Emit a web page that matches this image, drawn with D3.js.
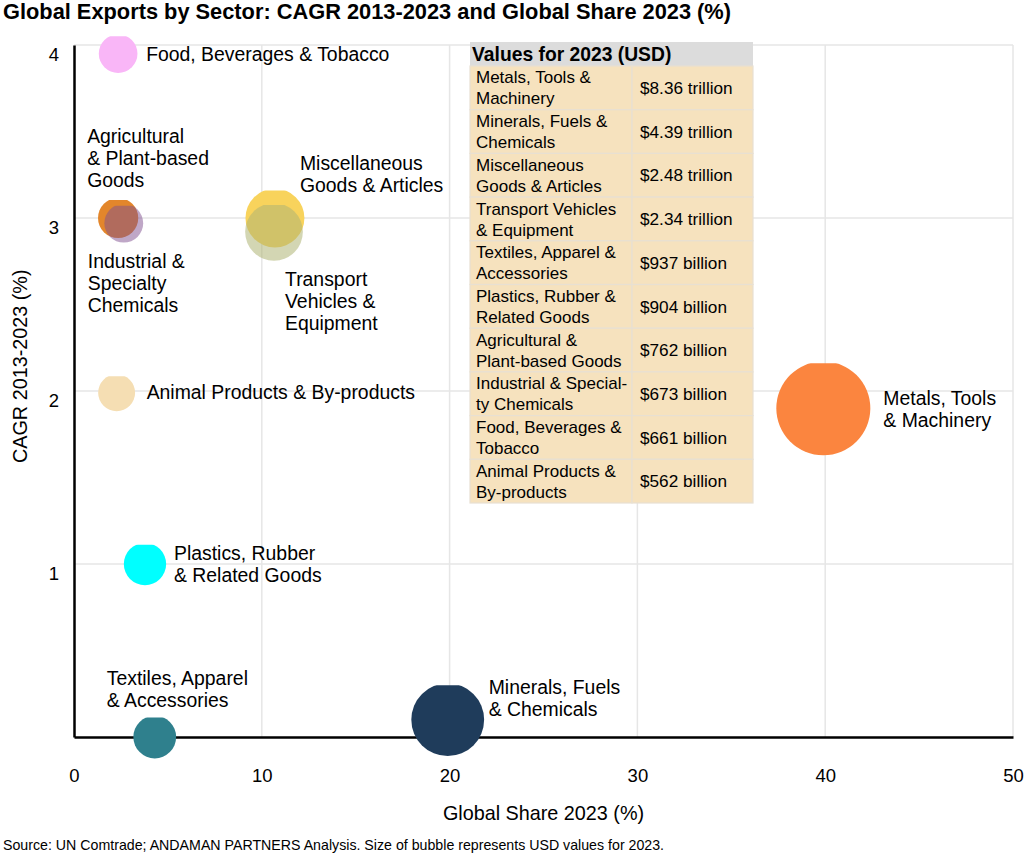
<!DOCTYPE html>
<html>
<head>
<meta charset="utf-8">
<script src="https://cdn.jsdelivr.net/npm/d3@7"></script>
<style>
  body { margin: 0; background: #fff; }
  text { font-family: "Liberation Sans", Arial, sans-serif; fill: #000; }
</style>
</head>
<body>
<div id="chart"></div>
<script>
// data
var sectors = ["Metals, Tools & Machinery", "Minerals, Fuels & Chemicals", "Miscellaneous Goods & Articles",
    "Transport Vehicles & Equipment", "Textiles, Apparel & Accessories", "Plastics, Rubber & Related Goods",
    "Agricultural & Plant-based Goods", "Industrial & Specialty Chemicals", "Food, Beverages & Tobacco",
    "Animal Products & By-products"];
var share = [39.9, 19.9, 10.7, 10.65, 4.3, 3.78, 2.35, 2.65, 2.35, 2.27];   // Global share 2023 (%)
var cagr = [1.9, 0.1, 3.0, 2.92, 0.0, 1.0, 3.0, 2.97, 3.95, 1.99];            // CAGR 2013-2023 (%)
var usdBn = [8360, 4390, 2480, 2340, 937, 904, 762, 673, 661, 562];            // USD billions 2023
var valueText = ["$8.36 trillion", "$4.39 trillion", "$2.48 trillion", "$2.34 trillion", "$937 billion",
    "$904 billion", "$762 billion", "$673 billion", "$661 billion", "$562 billion"];
var tableNames = [["Metals, Tools &", "Machinery"], ["Minerals, Fuels &", "Chemicals"], ["Miscellaneous", "Goods & Articles"],
    ["Transport Vehicles", "& Equipment"], ["Textiles, Apparel &", "Accessories"], ["Plastics, Rubber &", "Related Goods"],
    ["Agricultural &", "Plant-based Goods"], ["Industrial & Special-", "ty Chemicals"], ["Food, Beverages &", "Tobacco"],
    ["Animal Products &", "By-products"]];
var bubbleNames = [["Metals, Tools", "& Machinery"], ["Minerals, Fuels", "& Chemicals"], ["Miscellaneous", "Goods & Articles"],
    ["Transport", "Vehicles &", "Equipment"], ["Textiles, Apparel", "& Accessories"], ["Plastics, Rubber", "& Related Goods"],
    ["Agricultural", "& Plant-based", "Goods"], ["Industrial &", "Specialty", "Chemicals"], ["Food, Beverages & Tobacco"],
    ["Animal Products & By-products"]];
var xTicks = [0, 10, 20, 30, 40, 50];
var yTicks = [1, 2, 3, 4];

// styling
var colors = ["#fb853f", "#1f3c5b", "#f8d35c", "#aeb474", "#2f808d", "#00ffff", "#e3862b", "#805090", "#f9b6f7", "#f5deb3"];
var opac = [1, 1, 1, 0.55, 1, 1, 1, 0.5, 1, 1];
// label offset from bubble centre (px): [dx, dy of first line]
var labelOff = [[60, -10], [41, -33], [25, -55], [11, 47], [-48, -59], [29, -11], [-31, -82], [-36, 38], [28, 0], [30, -1]];

var W = 1024, H = 855;
var margin = { top: 45, right: 11, bottom: 118, left: 74 },
    w = W - margin.left - margin.right,
    h = H - margin.top - margin.bottom;

var svg = d3.select("#chart").append("svg")
    .attr("width", W)
    .attr("height", H);

svg.append("text")
    .attr("x", 3).attr("y", 19)
    .style("font-size", "21.8px").style("font-weight", "bold")
    .text("Global Exports by Sector: CAGR 2013-2023 and Global Share 2023 (%)");

var g = svg.append("g")
    .attr("transform", "translate(" + margin.left + "," + margin.top + ")");

var x = d3.scaleLinear().domain([0, 50]).range([0, w]);
var y = d3.scaleLinear().domain([0, 4]).range([h, 0]);
var r = d3.scaleSqrt().domain([0, d3.max(usdBn)]).range([8.5, 47]);

// grid
g.append("g").selectAll("line").data(xTicks.slice(1))
    .enter().append("line")
    .attr("x1", function(d) { return x(d); }).attr("x2", function(d) { return x(d); })
    .attr("y1", 0).attr("y2", h)
    .attr("stroke", "#e6e6e6").attr("stroke-width", 1.5);
g.append("g").selectAll("line").data(yTicks)
    .enter().append("line")
    .attr("x1", 0).attr("x2", w)
    .attr("y1", function(d) { return y(d); }).attr("y2", function(d) { return y(d); })
    .attr("stroke", "#e6e6e6").attr("stroke-width", 1.5);

// axes
var xa = g.append("g")
    .attr("transform", "translate(0," + h + ")")
    .call(d3.axisBottom(x).tickValues(xTicks).tickFormat(d3.format("d")).tickSize(0).tickPadding(32));
xa.select(".domain").attr("stroke", "#000").attr("stroke-width", 2.5);
xa.selectAll("text").style("font-size", "18.5px").style("font-family", "Liberation Sans, Arial, sans-serif").attr("fill", "#000");

var ya = g.append("g")
    .call(d3.axisLeft(y).tickValues(yTicks).tickFormat(d3.format("d")).tickSize(0).tickPadding(15));
ya.select(".domain").attr("stroke", "#000").attr("stroke-width", 2.5);
ya.selectAll("text").style("font-size", "18.5px").style("font-family", "Liberation Sans, Arial, sans-serif")
    .attr("fill", "#000").attr("dy", "0.83em");

svg.append("text")
    .attr("x", margin.left + w / 2).attr("y", 820)
    .attr("text-anchor", "middle").style("font-size", "19.8px")
    .text("Global Share 2023 (%)");
svg.append("text")
    .attr("transform", "translate(26.5,463) rotate(-90)")
    .attr("text-anchor", "start").style("font-size", "19.8px")
    .text("CAGR 2013-2023 (%)");

svg.append("text")
    .attr("x", 3).attr("y", 850)
    .style("font-size", "14.2px")
    .text("Source: UN Comtrade; ANDAMAN PARTNERS Analysis. Size of bubble represents USD values for 2023.");

// bubbles (each slightly flattened on top like the original render)
var idx = d3.range(sectors.length);
var defs = svg.append("defs");
idx.forEach(function(i) {
    defs.append("clipPath").attr("id", "clip" + i)
        .append("rect")
        .attr("x", x(share[i]) - r(usdBn[i]) - 1)
        .attr("y", y(cagr[i]) - r(usdBn[i]) + 2)
        .attr("width", 2 * r(usdBn[i]) + 2)
        .attr("height", 2 * r(usdBn[i]));
});

g.selectAll("circle.bub")
    .data(idx)
    .enter().append("circle")
    .attr("class", "bub")
    .attr("clip-path", function(i) { return "url(#clip" + i + ")"; })
    .attr("cx", function(i) { return x(share[i]); })
    .attr("cy", function(i) { return y(cagr[i]); })
    .attr("r", function(i) { return r(usdBn[i]); })
    .attr("fill", function(i) { return colors[i]; })
    .attr("fill-opacity", function(i) { return opac[i]; })
    .append("title").text(function(i) { return sectors[i] + ": " + valueText[i]; });

// bubble labels
var lab = g.selectAll("text.lab")
    .data(idx)
    .enter().append("text")
    .attr("class", "lab")
    .style("font-size", "19.4px")
    .attr("transform", function(i) {
        return "translate(" + (x(share[i]) + labelOff[i][0]) + "," + (y(cagr[i]) + labelOff[i][1]) + ")";
    });
lab.selectAll("tspan")
    .data(function(i) { return bubbleNames[i]; })
    .enter().append("tspan")
    .attr("x", 0)
    .attr("y", function(d, j) { return j * 22; })
    .attr("dy", "0.36em")
    .text(function(d) { return d; });

// value table
var tx = 470, ty = 42, tw = 283, hdrH = 24, rowH = 43.7, col2 = 162;
var tbl = svg.append("g").attr("transform", "translate(" + tx + "," + ty + ")");
tbl.append("rect").attr("width", tw).attr("height", hdrH).attr("fill", "#dcdcdc");
tbl.append("text").attr("x", 2).attr("y", hdrH / 2).attr("dy", "0.36em")
    .style("font-size", "19.3px").style("font-weight", "bold")
    .text("Values for 2023 (USD)");

var rows = tbl.selectAll("g.row").data(idx).enter().append("g")
    .attr("class", "row")
    .attr("transform", function(i) { return "translate(0," + (hdrH + i * rowH) + ")"; });
rows.append("rect").attr("width", col2).attr("height", rowH)
    .attr("fill", "#f6e2be").attr("stroke", "#e8e0d2").attr("stroke-width", 1.2);
rows.append("rect").attr("x", col2).attr("width", tw - col2).attr("height", rowH)
    .attr("fill", "#f6e2be").attr("stroke", "#e8e0d2").attr("stroke-width", 1.2);
rows.append("text")
    .style("font-size", "17px")
    .selectAll("tspan").data(function(i) { return tableNames[i]; })
    .enter().append("tspan")
    .attr("x", 6)
    .attr("y", function(d, j) { return rowH / 2 - 10.5 + j * 21; })
    .attr("dy", "0.36em")
    .text(function(d) { return d; });
rows.append("text")
    .attr("x", col2 + 8).attr("y", rowH / 2).attr("dy", "0.36em")
    .style("font-size", "17.2px")
    .text(function(i) { return valueText[i]; });
</script>
</body>
</html>
